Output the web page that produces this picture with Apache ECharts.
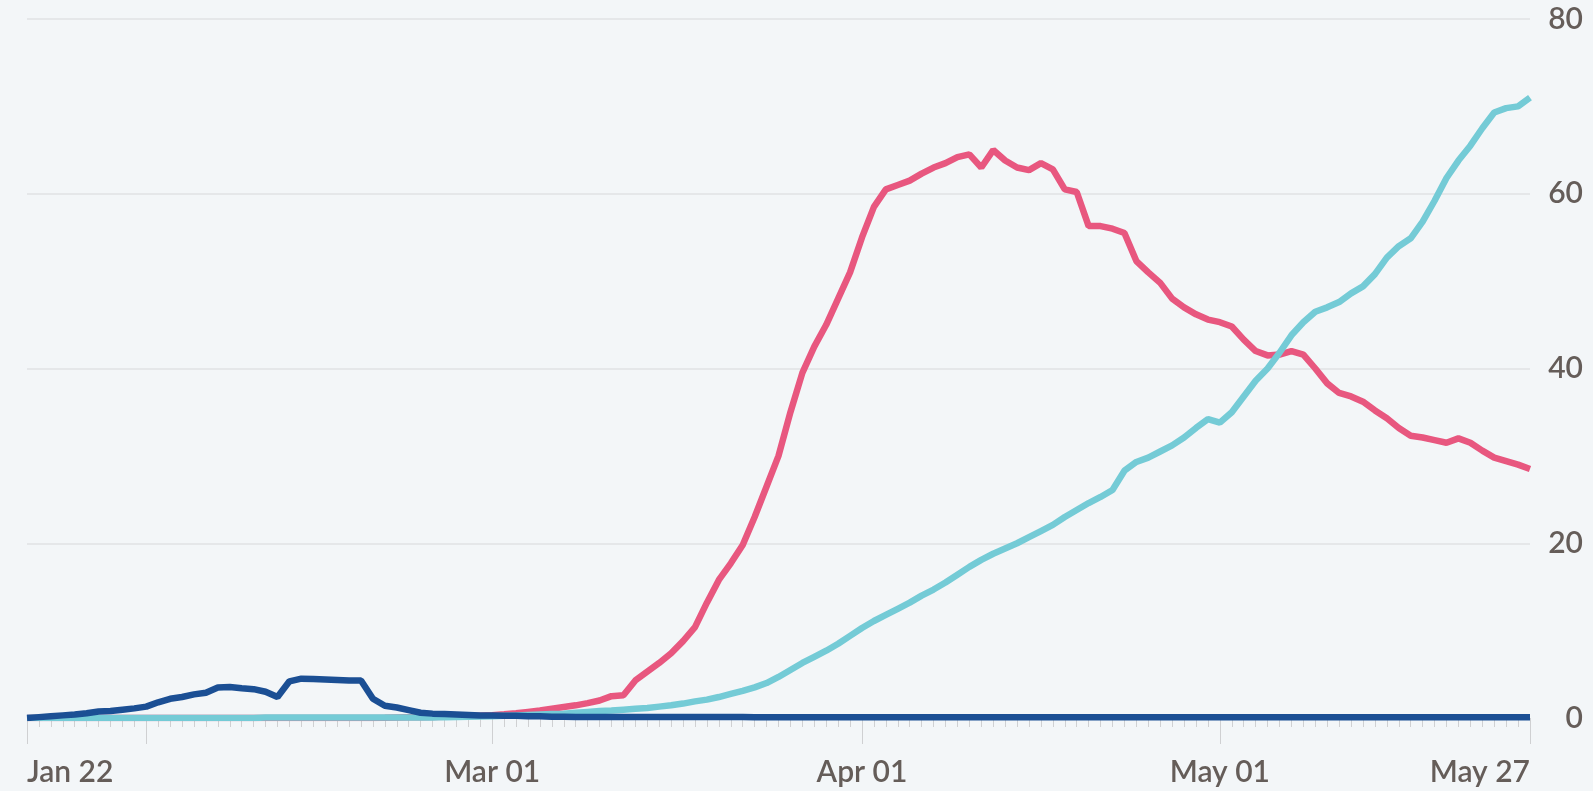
<!DOCTYPE html>
<html>
<head>
<meta charset="utf-8">
<script src="https://cdn.jsdelivr.net/npm/echarts@6/dist/echarts.min.js"></script>
<style>
html,body{margin:0;padding:0;background:#f3f6f8;}
#c{width:1593px;height:791px;}
</style>
</head>
<body>
<div id="c"></div>
<script>
// Daily categories from Jan 22 to May 27
const startDate = [2020, 0, 22];
const dayCount = 127;
const monthNames = ['Jan','Feb','Mar','Apr','May','Jun'];
const categories = [];
for (let i = 0; i < dayCount; i++) {
  const d = new Date(startDate[0], startDate[1], startDate[2] + i);
  categories.push(monthNames[d.getMonth()] + ' ' + String(d.getDate()).padStart(2, '0'));
}
const tickLabels = ['Jan 22', 'Mar 01', 'Apr 01', 'May 01', 'May 27'];
const yTicks = [0, 20, 40, 60, 80];

const blueSeries = [
  0,0.1,0.2,0.3,0.4,0.55,0.75,0.8,0.95,1.1,
  1.3,1.8,2.2,2.4,2.7,2.9,3.5,3.55,3.4,3.3,
  3.0,2.4,4.2,4.5,4.45,4.4,4.35,4.3,4.3,2.2,
  1.4,1.2,0.9,0.6,0.5,0.45,0.4,0.35,0.3,0.3,
  0.25,0.25,0.2,0.2,0.15,0.15,0.12,0.12,0.12,0.12,
  0.12,0.12,0.12,0.12,0.12,0.12,0.12,0.12,0.12,0.12,
  0.12,0.08,0.08,0.08,0.08,0.08,0.08,0.08,0.08,0.08,
  0.08,0.08,0.08,0.08,0.08,0.08,0.08,0.08,0.08,0.08,
  0.08,0.08,0.08,0.08,0.08,0.08,0.08,0.08,0.08,0.08,
  0.08,0.08,0.08,0.08,0.08,0.08,0.08,0.08,0.08,0.08,
  0.08,0.08,0.08,0.08,0.08,0.08,0.08,0.08,0.08,0.08,
  0.08,0.08,0.08,0.08,0.08,0.08,0.08,0.08,0.08,0.08,
  0.08,0.08,0.08,0.08,0.08,0.08,0.08
];
const pinkSeries = [
  0,0,0,0,0,0,0,0,0,0,
  0,0,0,0,0,0,0,0,0,0,
  0,0,0,0,0,0,0,0,0,0,
  0.02,0.05,0.08,0.1,0.12,0.15,0.18,0.22,0.27,0.32,
  0.42,0.55,0.7,0.85,1.05,1.25,1.45,1.7,2.0,2.5,
  2.6,4.3,5.3,6.3,7.4,8.8,10.4,13.2,15.8,17.7,
  19.8,23,26.5,30,35,39.5,42.5,45,48,51,
  55,58.5,60.5,61,61.5,62.3,63,63.5,64.2,64.5,
  63,65,63.8,63,62.7,63.5,62.8,60.5,60.2,56.3,
  56.3,56,55.5,52.3,51,49.8,48,47,46.2,45.6,
  45.3,44.8,43.3,42,41.5,41.6,42,41.6,40,38.3,
  37.2,36.8,36.2,35.2,34.3,33.2,32.3,32.1,31.8,31.5,
  32,31.5,30.6,29.8,29.4,29.0,28.5
];
const cyanSeries = [
  0,0,0,0,0,0,0,0,0,0,
  0,0,0,0,0,0,0,0,0,0,
  0.05,0.05,0.05,0.05,0.05,0.05,0.05,0.05,0.05,0.05,
  0.05,0.05,0.05,0.05,0.05,0.1,0.12,0.15,0.18,0.2,
  0.25,0.3,0.35,0.4,0.45,0.5,0.6,0.7,0.8,0.85,
  0.95,1.05,1.15,1.3,1.45,1.65,1.9,2.1,2.4,2.75,
  3.1,3.5,4.0,4.7,5.5,6.3,7.0,7.7,8.5,9.4,
  10.3,11.1,11.8,12.5,13.2,14.0,14.7,15.5,16.4,17.3,
  18.1,18.8,19.4,20.0,20.7,21.4,22.1,23.0,23.8,24.6,
  25.3,26.1,28.3,29.3,29.8,30.5,31.2,32.1,33.2,34.2,
  33.8,35.0,36.8,38.6,40.0,41.8,43.8,45.3,46.5,47.0,
  47.6,48.6,49.4,50.8,52.7,54.0,54.9,56.8,59.2,61.8,
  63.8,65.5,67.5,69.3,69.8,70.0,71.0
];

const FONT = 'Lato, "Open Sans", sans-serif';
const TEXT = '#655d59';

const chart = echarts.init(document.getElementById('c'), null, {renderer: 'canvas'});
const baseX = {
  type: 'category',
  data: categories,
  boundaryGap: false,
  position: 'bottom',
  offset: 4,
  axisLine: {show: false},
  splitLine: {show: false}
};
chart.setOption({
  backgroundColor: '#f3f6f8',
  animation: false,
  grid: {left: 27, right: 63, top: 19, bottom: 73, containLabel: false},
  xAxis: [
    Object.assign({}, baseX, {
      axisTick: {show: true, interval: 0, length: 9, lineStyle: {color: '#cfd0d2', width: 1}},
      axisLabel: {
        show: true,
        interval: (i, v) => tickLabels.indexOf(v) >= 0,
        margin: 35,
        fontFamily: FONT, fontSize: 30, fontWeight: 600, color: TEXT,
        alignMinLabel: 'left', alignMaxLabel: 'right'
      }
    }),
    Object.assign({}, baseX, {
      axisTick: {show: true, interval: (i, v) => v.endsWith(' 01') || i === 0 || i === dayCount - 1, length: 22, lineStyle: {color: '#cfd0d2', width: 1}},
      axisLabel: {show: false}
    })
  ],
  yAxis: {
    type: 'value',
    position: 'right',
    min: yTicks[0], max: yTicks[yTicks.length - 1], interval: 20,
    axisLine: {show: false},
    axisTick: {show: false},
    splitLine: {lineStyle: {color: '#e0e2e4', width: 1.5}},
    axisLabel: {
      align: 'right', margin: 53,
      fontFamily: FONT, fontSize: 30, fontWeight: 600, color: TEXT
    }
  },
  series: [
    {name: 'pink', type: 'line', data: pinkSeries, xAxisIndex: 0, symbol: 'none', z: 2,
     lineStyle: {color: '#e8577f', width: 6.5}},
    {name: 'cyan', type: 'line', data: cyanSeries, xAxisIndex: 0, symbol: 'none', z: 3,
     lineStyle: {color: '#74cbd6', width: 6.5}},
    {name: 'blue', type: 'line', data: blueSeries, xAxisIndex: 0, symbol: 'none', z: 4,
     lineStyle: {color: '#1b4f94', width: 6.5}}
  ]
});
</script>
</body>
</html>
